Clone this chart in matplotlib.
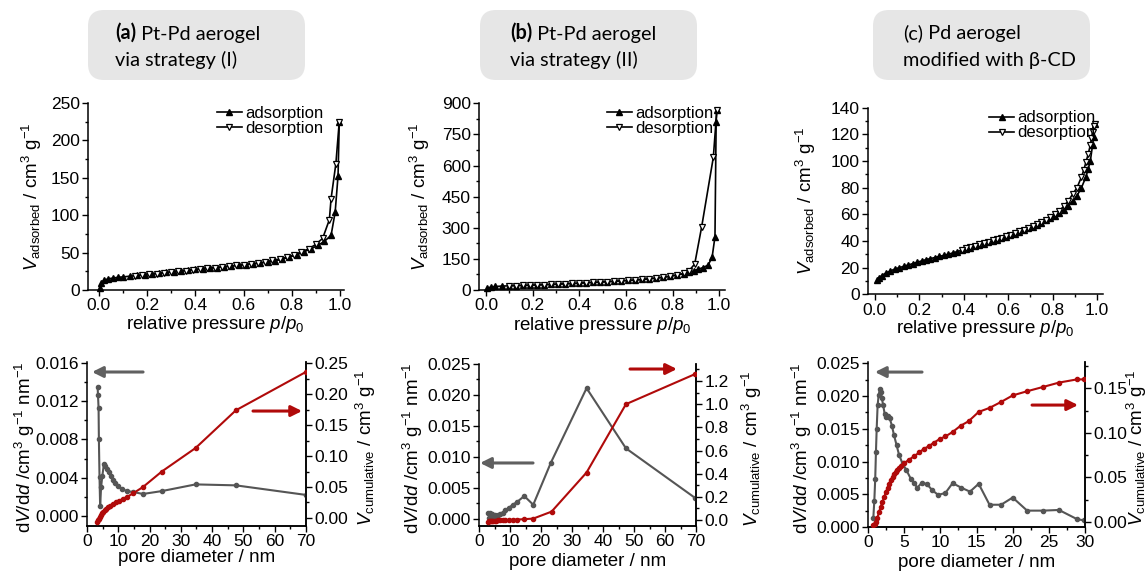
import matplotlib
matplotlib.use("Agg")
import matplotlib.pyplot as plt
from matplotlib.patches import FancyBboxPatch
from matplotlib.ticker import MultipleLocator, FormatStrFormatter

plt.rcParams['font.family'] = ['Liberation Sans', 'DejaVu Sans']
plt.rcParams['mathtext.fontset'] = 'custom'
plt.rcParams['mathtext.rm'] = 'Liberation Sans'
plt.rcParams['mathtext.it'] = 'Liberation Sans:italic'
plt.rcParams['mathtext.bf'] = 'Liberation Sans:bold'

# ---------------- isotherms (top row) ----------------
# (a) Pt-Pd aerogel via strategy (I)
a_ads_p = [0.003, 0.01, 0.02, 0.04, 0.06, 0.08, 0.10, 0.13, 0.16, 0.19, 0.22, 0.25, 0.28, 0.31,
           0.34, 0.37, 0.40, 0.43, 0.46, 0.49, 0.52, 0.55, 0.58, 0.61, 0.64, 0.67, 0.70, 0.73,
           0.76, 0.79, 0.82, 0.85, 0.88, 0.91, 0.935, 0.963, 0.980, 0.992, 0.997]
a_ads_v = [3, 9, 13, 15, 16, 17, 17.5, 18.5, 19.5, 20.5, 21.5, 22.5, 23.5, 24.5,
           25.5, 26.5, 27.5, 28.5, 29.5, 30, 31, 32, 33, 34, 35, 36, 37.5, 39,
           41, 44, 47, 51, 55, 60, 65, 73, 104, 153, 225]
a_des_p = [0.997, 0.983, 0.963, 0.956, 0.928, 0.90, 0.87, 0.84, 0.81, 0.78, 0.75, 0.72, 0.69,
           0.66, 0.63, 0.60, 0.57, 0.54, 0.51, 0.48, 0.45, 0.42, 0.39, 0.36, 0.33, 0.30,
           0.27, 0.24, 0.21, 0.18, 0.15]
a_des_v = [225, 169, 122, 94, 69, 61, 55, 51, 47, 44, 41.5, 39.5, 37.5,
           36, 35, 34, 33, 32, 31, 30, 29, 28, 27, 26, 25, 24,
           23, 22, 21, 20, 19]

# (b) Pt-Pd aerogel via strategy (II)
b_ads_p = [0.005, 0.02, 0.04, 0.07, 0.10, 0.13, 0.16, 0.19, 0.22, 0.25, 0.28, 0.31, 0.34,
           0.37, 0.40, 0.43, 0.46, 0.49, 0.52, 0.55, 0.58, 0.61, 0.64, 0.67, 0.70, 0.73,
           0.76, 0.79, 0.82, 0.85, 0.87, 0.89, 0.91, 0.93, 0.953, 0.970, 0.982, 0.987, 0.990]
b_ads_v = [8, 14, 17, 19, 20, 21, 22, 23, 24, 25.5, 27, 28.5, 30,
           31.5, 33, 35, 36.5, 38, 40, 42, 44, 46, 48, 51, 54, 57,
           61, 66, 72, 79, 85, 92, 100, 108, 120, 160, 257, 812, 868]
b_des_p = [0.990, 0.975, 0.925, 0.895, 0.87, 0.85, 0.82, 0.79, 0.76, 0.73, 0.70, 0.67, 0.64,
           0.61, 0.58, 0.55, 0.52, 0.49, 0.46, 0.43, 0.40, 0.37, 0.34, 0.31, 0.28, 0.25,
           0.22, 0.19, 0.16, 0.13, 0.10]
b_des_v = [868, 640, 305, 125, 92, 80, 73, 67, 62, 58, 54, 51, 48,
           46, 44, 42, 40, 38, 37, 35, 33, 31.5, 30, 28.5, 27, 25.5,
           24.5, 23.5, 22.5, 21.5, 20.5]

# (c) Pd aerogel modified with beta-CD
c_ads_p = [0.01, 0.02, 0.03, 0.05, 0.07, 0.09, 0.11, 0.13, 0.15, 0.17, 0.19, 0.21, 0.23, 0.25,
           0.27, 0.29, 0.31, 0.33, 0.35, 0.37, 0.39, 0.41, 0.43, 0.45, 0.47, 0.49, 0.51, 0.53,
           0.55, 0.57, 0.59, 0.61, 0.63, 0.65, 0.67, 0.69, 0.71, 0.73, 0.75, 0.77, 0.79, 0.81,
           0.83, 0.85, 0.87, 0.89, 0.91, 0.93, 0.95, 0.96, 0.97, 0.98, 0.985, 0.99]
c_ads_v = [11, 12.5, 14, 16, 17.5, 19, 20, 21, 22, 23, 24, 25, 26, 26.8,
           27.6, 28.4, 29.2, 30, 31, 32, 33, 34, 35, 36, 37, 38, 39, 40,
           41, 42, 43, 44.2, 45.4, 46.6, 48, 49.4, 50.8, 52.2, 53.8, 55.4, 57, 59,
           61, 63.5, 66.5, 70, 74, 80, 88, 94, 100, 112, 118, 128]
c_des_p = [0.99, 0.985, 0.98, 0.975, 0.97, 0.96, 0.95, 0.94, 0.93, 0.91, 0.89, 0.87, 0.85,
           0.83, 0.81, 0.79, 0.77, 0.75, 0.73, 0.71, 0.69, 0.67, 0.65, 0.63, 0.61, 0.59,
           0.57, 0.55, 0.53, 0.51, 0.49, 0.47, 0.45, 0.43, 0.41, 0.39]
c_des_v = [128, 126, 122, 117, 112, 105, 99, 93, 88, 80, 75, 70, 66,
           62.5, 60, 58, 56, 54.4, 52.8, 51.4, 50, 48.6, 47.2, 46, 44.8, 43.6,
           42.6, 41.6, 40.6, 39.6, 38.6, 37.6, 36.6, 35.6, 34.6, 33.6]

# ---------------- pore size distributions (bottom row) ----------------
a_psd_d = [3.4, 3.5, 3.7, 3.8, 4.0, 4.2, 4.5, 4.9, 5.4, 5.9, 6.4, 7.0, 7.6, 8.3, 9.1, 10.0,
           11.2, 12.8, 14.8, 17.9, 23.9, 34.7, 47.6, 70.0]
a_psd_v = [0.0135, 0.0127, 0.0113, 0.0080, 0.0041, 0.0010, 0.0030, 0.0042, 0.0054, 0.0052,
           0.0049, 0.0046, 0.0042, 0.0038, 0.0034, 0.0031, 0.0028, 0.0026, 0.0025, 0.0023,
           0.0026, 0.0033, 0.0032, 0.0022]
a_cum_d = [3.1, 3.4, 3.7, 4.0, 4.4, 4.8, 5.2, 5.7, 6.2, 6.8, 7.5, 8.3, 9.2, 10.2, 11.4, 12.8,
           14.8, 17.9, 23.9, 34.7, 47.6, 70.0]
a_cum_v = [-0.007, -0.004, -0.001, 0.002, 0.005, 0.008, 0.010, 0.013, 0.015, 0.018, 0.020,
           0.023, 0.025, 0.027, 0.031, 0.034, 0.040, 0.050, 0.075, 0.113, 0.174, 0.236]

b_psd_d = [3.0, 3.3, 3.6, 3.9, 4.2, 4.6, 5.0, 5.5, 6.1, 6.8, 7.6, 8.5, 9.6, 10.9, 12.4, 14.6,
           17.5, 23.2, 34.7, 47.4, 69.7]
b_psd_v = [0.0010, 0.0002, 0.0009, 0.0001, 0.0008, 0.0003, 0.0007, 0.0004, 0.0006, 0.0008,
           0.0010, 0.0014, 0.0018, 0.0023, 0.0028, 0.0037, 0.0023, 0.0091, 0.0211, 0.0114, 0.0034]
b_cum_d = [3.0, 3.3, 3.6, 3.9, 4.2, 4.6, 5.0, 5.5, 6.1, 6.8, 7.6, 8.5, 9.6, 10.9, 12.4, 14.6,
           17.5, 23.4, 34.7, 47.4, 69.7]
b_cum_v = [-0.015, -0.012, -0.010, -0.009, -0.008, -0.007, -0.006, -0.005, -0.004, -0.003,
           -0.002, -0.001, 0.000, 0.002, 0.004, 0.007, 0.012, 0.072, 0.41, 1.00, 1.26]

c_psd_d = [0.73, 0.87, 1.0, 1.1, 1.2, 1.33, 1.47, 1.65, 1.8, 1.9, 2.1, 2.3, 2.48, 2.7, 3.0,
           3.3, 3.6, 3.95, 4.3, 4.77, 5.3, 5.9, 6.4, 6.8, 7.4, 8.1, 8.9, 9.7, 10.7, 11.7,
           12.9, 14.1, 15.3, 16.8, 18.4, 20.0, 22.0, 24.2, 26.4, 28.9, 29.9]
c_psd_v = [0.0013, 0.0039, 0.0074, 0.0115, 0.0150, 0.0186, 0.0201, 0.0211, 0.0206, 0.0197,
           0.0186, 0.0173, 0.0168, 0.0170, 0.0166, 0.0155, 0.0140, 0.0125, 0.0110, 0.0097,
           0.0087, 0.0074, 0.0067, 0.0060, 0.0067, 0.0066, 0.0056, 0.0049, 0.0052, 0.0067,
           0.0060, 0.0054, 0.0066, 0.0034, 0.0034, 0.0045, 0.0025, 0.0025, 0.0026, 0.0012, 0.0010]
c_cum_d = [0.73, 0.9, 1.1, 1.3, 1.55, 1.75, 2.0, 2.25, 2.5, 2.7, 2.9, 3.15, 3.4, 3.6, 3.85,
           4.05, 4.3, 4.6, 5.0, 5.7, 6.4, 7.1, 7.7, 8.4, 9.1, 9.9, 10.7, 11.7, 12.8, 13.9,
           15.3, 16.8, 18.4, 20.0, 22.0, 24.2, 26.4, 28.9, 29.9]
c_cum_v = [-0.003, -0.002, 0.000, 0.005, 0.0115, 0.017, 0.0227, 0.028, 0.034, 0.038, 0.043,
           0.047, 0.051, 0.0535, 0.056, 0.0585, 0.061, 0.063, 0.066, 0.070, 0.074, 0.078,
           0.082, 0.085, 0.089, 0.093, 0.096, 0.101, 0.108, 0.113, 0.1235, 0.128, 0.1347,
           0.142, 0.1467, 0.1515, 0.1564, 0.160, 0.160]

titles = [("(a)", " Pt-Pd aerogel", "via strategy (I)", True),
          ("(b)", " Pt-Pd aerogel", "via strategy (II)", True),
          ("(c)", " Pd aerogel", "modified with \u03b2-CD", False)]

GRAY = '#555555'
RED = '#b00a0a'
W, H = 1148, 573
BOXFONT = ['Lato', 'Open Sans', 'DejaVu Sans']

fig = plt.figure(figsize=(W / 100, H / 100), dpi=100)


def px_axes(x0, y0, x1, y1):
    # pixel box (left, top, right, bottom) -> figure fraction
    return fig.add_axes([x0 / W, 1 - y1 / H, (x1 - x0) / W, (y1 - y0) / H])


def style(ax, right=False):
    ax.spines['top'].set_visible(False)
    if not right:
        ax.spines['right'].set_visible(False)
    for s in ax.spines.values():
        s.set_linewidth(1.1)
    ax.tick_params(which='both', direction='out', labelsize=12.5, width=1.0, pad=2)
    ax.tick_params(which='major', length=4)
    ax.tick_params(which='minor', length=2.5)


# ---- top row ----
top_boxes = [(88, 103, 343.6, 290), (479, 103.3, 725, 290), (868, 107.7, 1103, 294.3)]
iso = [(a_ads_p, a_ads_v, a_des_p, a_des_v, (-0.045, 1.015), 250, 50, 25),
       (b_ads_p, b_ads_v, b_des_p, b_des_v, (-0.03, 1.025), 900, 150, 75),
       (c_ads_p, c_ads_v, c_des_p, c_des_v, (-0.031, 1.027), 140, 20, 10)]
ylab_x = [-0.172, -0.191, -0.213]
xlab_y = [-0.128, -0.135, -0.127]
leg_x = [0.504, 0.519, 0.516]

for i, (box, d) in enumerate(zip(top_boxes, iso)):
    ap, av, dp, dv, xl, ymax, maj, mnr = d
    ax = px_axes(*box)
    style(ax)
    ax.plot(ap, av, '-^', color='black', lw=1.2, ms=4.5, mfc='black', mec='black',
            label='adsorption', clip_on=False)
    ax.plot(dp, dv, '-v', color='black', lw=1.2, ms=4.5, mfc='white', mec='black',
            mew=0.9, label='desorption', clip_on=False)
    ax.set_xlim(*xl)
    ax.set_ylim(0, ymax)
    ax.xaxis.set_major_locator(MultipleLocator(0.2))
    ax.xaxis.set_minor_locator(MultipleLocator(0.1))
    ax.xaxis.set_major_formatter(FormatStrFormatter('%.1f'))
    ax.yaxis.set_major_locator(MultipleLocator(maj))
    ax.yaxis.set_minor_locator(MultipleLocator(mnr))
    ax.set_xlabel(r'relative pressure $p/p_0$', fontsize=13.5)
    ax.set_ylabel(r'$V_{\mathrm{adsorbed}}$ / cm$^3$ g$^{-1}$', fontsize=13.5)
    ax.xaxis.set_label_coords(0.5, xlab_y[i])
    ax.yaxis.set_label_coords(ylab_x[i], 0.5)
    ax.legend(loc='upper left', bbox_to_anchor=(leg_x[i], 0.985), frameon=False,
              fontsize=12, handlelength=1.5, handletextpad=0.2, labelspacing=0.0,
              borderpad=0, borderaxespad=0)

# ---- bottom row ----
bot_boxes = [(87, 362, 306, 526), (479, 364, 696, 526), (868, 362, 1085, 527)]
psd = [(a_psd_d, a_psd_v, a_cum_d, a_cum_v, 70, 10, 5,
        (-0.00105, 0.0161), 0.004, 0.002, '%.3f', (-0.013, 0.252), 0.05, 0.025, '%.2f'),
       (b_psd_d, b_psd_v, b_cum_d, b_cum_v, 70, 10, 5,
        (-0.00113, 0.025), 0.005, 0.0025, '%.3f', (-0.052, 1.347), 0.2, 0.1, '%.1f'),
       (c_psd_d, c_psd_v, c_cum_d, c_cum_v, 30, 5, 2.5,
        (0, 0.0252), 0.005, 0.0025, '%.3f', (-0.0056, 0.1795), 0.05, 0.025, '%.2f')]
left_lab_x = [-0.23, -0.247, -0.247]
right_lab_x = [1.219, 1.201, 1.185]
bxlab_y = [-0.14, -0.165, -0.162]
gray_arrows = [((0.256, 0.939), (0.023, 0.939)), ((0.249, 0.389), (0.005, 0.389)),
               ((0.249, 0.939), (0.032, 0.939))]
red_arrows = [((0.758, 0.701), (0.982, 0.701)), ((0.696, 0.969), (0.912, 0.969)),
              ((0.756, 0.739), (0.968, 0.739))]

for i, (box, d) in enumerate(zip(bot_boxes, psd)):
    (pd_, pv, cd, cv, xmax, xmaj, xmin_, yl, ymaj, ymin_, yfmt,
     yr, rmaj, rmin, rfmt) = d
    ax = px_axes(*box)
    style(ax, right=True)
    ax2 = ax.twinx()
    style(ax2, right=True)
    ax2.spines['left'].set_visible(False)
    ax.plot(pd_, pv, '-o', color=GRAY, lw=1.5, ms=3, zorder=3)
    ax2.plot(cd, cv, '-o', color=RED, lw=1.5, ms=3, zorder=3)
    ax.set_xlim(0, xmax)
    ax.set_ylim(*yl)
    ax2.set_ylim(*yr)
    ax.xaxis.set_major_locator(MultipleLocator(xmaj))
    ax.xaxis.set_minor_locator(MultipleLocator(xmin_))
    ax.yaxis.set_major_locator(MultipleLocator(ymaj))
    ax.yaxis.set_minor_locator(MultipleLocator(ymin_))
    ax.yaxis.set_major_formatter(FormatStrFormatter(yfmt))
    ax2.yaxis.set_major_locator(MultipleLocator(rmaj))
    ax2.yaxis.set_minor_locator(MultipleLocator(rmin))
    ax2.yaxis.set_major_formatter(FormatStrFormatter(rfmt))
    ax.set_xlabel('pore diameter / nm', fontsize=13.5)
    ax.xaxis.set_label_coords(0.5, bxlab_y[i])
    ax.set_ylabel(r'd$V$/d$d$ /cm$^3$ g$^{-1}$ nm$^{-1}$', fontsize=13.5)
    ax.yaxis.set_label_coords(left_lab_x[i], 0.48)
    ax2.set_ylabel(r'$V_{\mathrm{cumulative}}$ / cm$^3$ g$^{-1}$', fontsize=13.5,
                   rotation=90)
    ax2.yaxis.set_label_coords(right_lab_x[i], 0.48)
    (t0, h0) = gray_arrows[i]
    ax.annotate('', xy=h0, xytext=t0, xycoords='axes fraction',
                arrowprops=dict(arrowstyle='-|>', color='#606060', lw=2.2,
                                mutation_scale=16, shrinkA=0, shrinkB=0))
    (t1, h1) = red_arrows[i]
    ax.annotate('', xy=h1, xytext=t1, xycoords='axes fraction',
                arrowprops=dict(arrowstyle='-|>', color=RED, lw=2.2,
                                mutation_scale=16, shrinkA=0, shrinkB=0))

# ---- title boxes ----
box_x = [88, 480, 873]
text_x = [115, 510, 903]
for i, (tag, rest, line2, bold) in enumerate(titles):
    patch = FancyBboxPatch((box_x[i] / 100, (H - 80) / 100), 2.17, 0.70,
                           boxstyle='round,pad=0,rounding_size=0.16',
                           transform=fig.dpi_scale_trans, fc='#e6e6e6', ec='none')
    fig.add_artist(patch)
    t1 = fig.text(text_x[i] / 100, (H - 39) / 100, tag, transform=fig.dpi_scale_trans,
                  fontsize=14.3, family=BOXFONT,
                  weight='bold' if bold else 'normal', va='baseline')
    fig.add_artist(plt.Annotation(rest, xy=(1, 0), xycoords=t1, va='bottom',
                                  fontsize=14.3, family=BOXFONT))
    fig.text(text_x[i] / 100, (H - 66) / 100, line2, transform=fig.dpi_scale_trans,
             fontsize=14.3, family=BOXFONT, va='baseline')

fig.savefig('out.png', dpi=100)
